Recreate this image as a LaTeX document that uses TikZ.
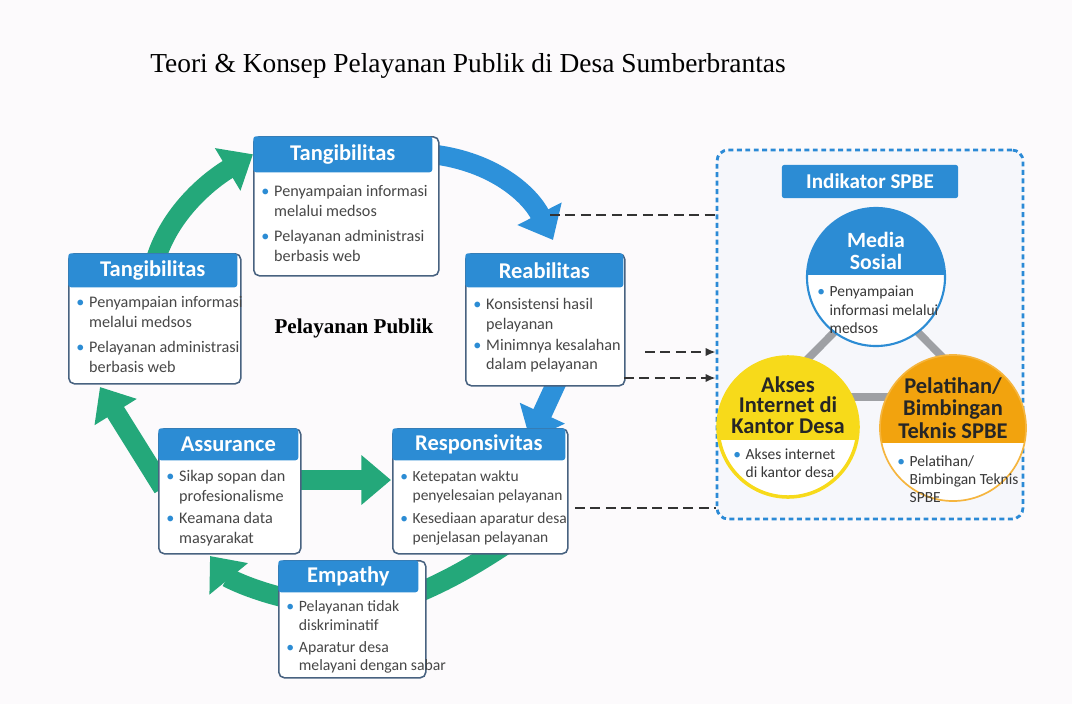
\documentclass[tikz,border=0pt]{standalone}
\usepackage{fontspec}
\setmainfont{Carlito}
\newfontfamily\serifttl{Liberation Serif}
\usetikzlibrary{arrows.meta,backgrounds}

\definecolor{bgpaper}{RGB}{252,250,252}
\definecolor{headblue}{RGB}{44,140,212}
\definecolor{arrblue}{RGB}{45,145,218}
\definecolor{arrgreen}{RGB}{36,168,122}
\definecolor{cardline}{RGB}{72,98,128}
\definecolor{boxblue}{RGB}{43,138,214}
\definecolor{spbefill}{RGB}{246,247,251}
\definecolor{trigray}{RGB}{158,160,164}
\definecolor{yellowc}{RGB}{247,218,26}
\definecolor{orangec}{RGB}{242,163,14}

\newcommand{\bul}{\makebox[0.8em][l]{\textcolor{headblue}{\textbullet}}}
\newcommand{\ind}{\hspace*{0.8em}}

\begin{document}
\begin{tikzpicture}[x=0.025cm,y=-0.025cm,
    head/.style={fill=headblue,text=white,font=\fontsize{16}{18}\selectfont\bfseries,rounded corners=2pt,inner sep=0pt,anchor=north west},
    card/.style={draw=cardline,line width=1.1pt,fill=white,rounded corners=4pt,inner sep=0pt,anchor=north west},
    items/.style={font=\fontsize{11.5}{14}\selectfont,text=black!72,align=left,inner sep=0pt,anchor=north west},
    garrow/.style={draw=arrgreen,line width=14pt,-{Triangle[length=21pt,width=34pt]}},
    barrow/.style={draw=arrblue,line width=14pt,-{Triangle[length=21pt,width=34pt]}},
    gband/.style={draw=arrgreen,line width=14pt},
    dline/.style={draw=black!80,line width=1.3pt,dash pattern=on 7pt off 4pt},
    ctitle/.style={font=\fontsize{16}{14.5}\selectfont\bfseries,align=center,inner sep=0pt},
    citems/.style={font=\fontsize{11}{13}\selectfont,text=black!78,align=left,inner sep=0pt,anchor=north west}]
  \useasboundingbox (0,0) rectangle (1072,704);
  % judul
  \node[font=\serifttl\fontsize{19.5}{22}\selectfont] (judul) at (468,66) {Teori \& Konsep Pelayanan Publik di Desa Sumberbrantas};
  \node[font=\serifttl\fontsize{15}{17}\selectfont\bfseries] (pusat) at (354,328) {Pelayanan Publik};
  % Tangibilitas (atas)
  \node[card,minimum width=4.625cm,minimum height=3.475cm] (tang1b) at (253,136) {};
  \node[head,minimum width=4.475cm,minimum height=0.9cm] (tang1) at (253,136) {Tangibilitas};
  \node[items] (tang1t) at (261,185) {\bul Penyampaian informasi\\ \ind melalui medsos\\[4pt] \bul Pelayanan administrasi\\ \ind berbasis web};
  % Tangibilitas (kiri)
  \node[card,minimum width=4.3cm,minimum height=3.25cm] (tang2b) at (68,253) {};
  \node[head,minimum width=4.225cm,minimum height=0.85cm] (tang2) at (68,253) {Tangibilitas};
  \node[items] (tang2t) at (76,296) {\bul Penyampaian informasi\\ \ind melalui medsos\\[4pt] \bul Pelayanan administrasi\\ \ind berbasis web};
  % Reabilitas
  \node[card,minimum width=3.975cm,minimum height=3.3cm] (reabb) at (465,253) {};
  \node[head,minimum width=3.95cm,minimum height=0.85cm] (reab) at (465,253) {Reabilitas};
  \node[items] (reabt) at (473,298) {\bul Konsistensi hasil\\ \ind pelayanan\\[1pt] \bul Minimnya kesalahan\\ \ind dalam pelayanan};
  % Assurance
  \node[card,minimum width=3.55cm,minimum height=3.125cm] (asurb) at (158,428) {};
  \node[head,minimum width=3.5cm,minimum height=0.8cm] (asur) at (158,428) {Assurance};
  \node[items] (asurt) at (166,470) {\bul Sikap sopan dan\\ \ind profesionalisme\\[2pt] \bul Keamana data\\ \ind masyarakat};
  % Responsivitas
  \node[card,minimum width=4.375cm,minimum height=3.125cm] (respb) at (392,428) {};
  \node[head,minimum width=4.325cm,minimum height=0.8cm] (resp) at (392,428) {Responsivitas};
  \node[items,font=\fontsize{11}{14}\selectfont] (respt) at (400,470) {\bul Ketepatan waktu\\ \ind penyelesaian pelayanan\\[2pt] \bul Kesediaan aparatur desa\\ \ind penjelasan pelayanan};
  % Empathy
  \node[card,minimum width=3.675cm,minimum height=2.925cm] (empb) at (278,560) {};
  \node[head,minimum width=3.5cm,minimum height=0.8cm] (emp) at (278,560) {Empathy};
  \node[items,font=\fontsize{11.2}{13.5}\selectfont] (empt) at (286,600) {\bul Pelayanan tidak\\ \ind diskriminatif\\[2pt] \bul Aparatur desa\\ \ind melayani dengan sabar};
  % indikator SPBE
  \node[draw=boxblue,line width=2pt,dash pattern=on 3.5pt off 2.5pt,rounded corners=8pt,fill=spbefill,minimum width=7.65cm,minimum height=9.225cm,inner sep=0pt] (spbe) at (870,334.5) {};
  \node[fill=headblue,text=white,font=\fontsize{15}{17}\selectfont\bfseries,minimum width=4.4cm,minimum height=0.825cm,rounded corners=1.5pt,inner sep=0pt] (indik) at (870,181.5) {Indikator SPBE};
  \coordinate (tri1) at (876,290);
  \coordinate (tri2) at (770,397);
  \coordinate (tri3) at (982,397);
  \draw[trigray,line width=5.5pt,line join=round] (tri1) -- (tri2) -- (tri3) -- cycle;
  \node[circle,minimum size=3.45cm,inner sep=0pt,draw=headblue,line width=1.5pt,fill=white,
    path picture={\fill[headblue] ([yshift=2pt]path picture bounding box.north west) rectangle ([yshift=1.4pt]path picture bounding box.east);}] (media) at (876,277) {};
  \node[circle,minimum size=3.5cm,inner sep=0pt,draw=yellowc,line width=2.5pt,fill=white,
    path picture={\fill[yellowc] ([yshift=2pt]path picture bounding box.north west) rectangle ([yshift=-9.2pt]path picture bounding box.east);}] (akses) at (788,427) {};
  \node[circle,minimum size=3.65cm,inner sep=0pt,draw=orangec!80,line width=1.2pt,fill=white,
    path picture={\fill[orangec] ([yshift=2pt]path picture bounding box.north west) rectangle ([yshift=-10.7pt]path picture bounding box.east);}] (latih) at (953,428) {};
  \node[ctitle,text=white,font=\fontsize{15.5}{16}\selectfont\bfseries] (media-t) at (876,251) {Media\\Sosial};
  \node[ctitle,text=black!85] (akses-t) at (788,405) {Akses\\Internet di\\Kantor Desa};
  \node[ctitle,text=black!85,font=\fontsize{16}{16}\selectfont\bfseries] (latih-t) at (953,408) {Pelatihan/\\Bimbingan\\Teknis SPBE};
  \node[citems] (media-i) at (817,286) {\bul Penyampaian\\ \ind informasi melalui\\ \ind medsos};
  \node[citems] (akses-i) at (733,448) {\bul Akses internet\\ \ind di kantor desa};
  \node[citems] (latih-i) at (897,455) {\bul Pelatihan/\\ \ind Bimbingan Teknis\\ \ind SPBE};
  % garis putus-putus ke indikator
  \coordinate (d1) at (550,215);
  \coordinate (d2) at (645,352);
  \coordinate (d3) at (624,378);
  \coordinate (d4) at (575,508);
  \draw[dline] (d1) -- (d1 -| spbe.west);
  \draw[dline,-{Latex[length=7pt,width=6pt]}] (d2) -- (d2 -| spbe.west);
  \draw[dline,-{Latex[length=7pt,width=6pt]}] (d3) -- (d3 -| spbe.west);
  \draw[dline] (d4) -- (d4 -| spbe.west);
  % panah siklus
  \coordinate (reabIn) at (553,240);
  \coordinate (reabOut) at (560,375);
  \coordinate (respIn) at (530,440);
  \coordinate (respOut) at (505,545);
  \coordinate (empIn) at (400,600);
  \coordinate (empOut) at (295,600);
  \coordinate (asurIn) at (210,556);
  \coordinate (asurOut) at (163,488);
  \coordinate (tang2In) at (100,387);
  \coordinate (asurEast) at (290,480);
  \coordinate (respWest) at (391,480);
  \begin{pgfonlayer}{background}
    \fill[bgpaper] (0,0) rectangle (1072,704);
    \draw[garrow] (tang2.center) .. controls (165,215) and (210,180) .. (tang1.west);
    \draw[barrow] (tang1.east) .. controls (495,162) and (530,195) .. (reabIn);
    \draw[barrow] (reabOut) -- (respIn);
    \draw[gband] (respOut) .. controls (470,568) and (440,585) .. (empIn);
    \draw[garrow] (empOut) .. controls (255,592) and (228,578) .. (asurIn);
    \draw[garrow] (asurOut) -- (tang2In);
    \draw[garrow] (asurEast) -- (respWest);
  \end{pgfonlayer}
\end{tikzpicture}
\end{document}
